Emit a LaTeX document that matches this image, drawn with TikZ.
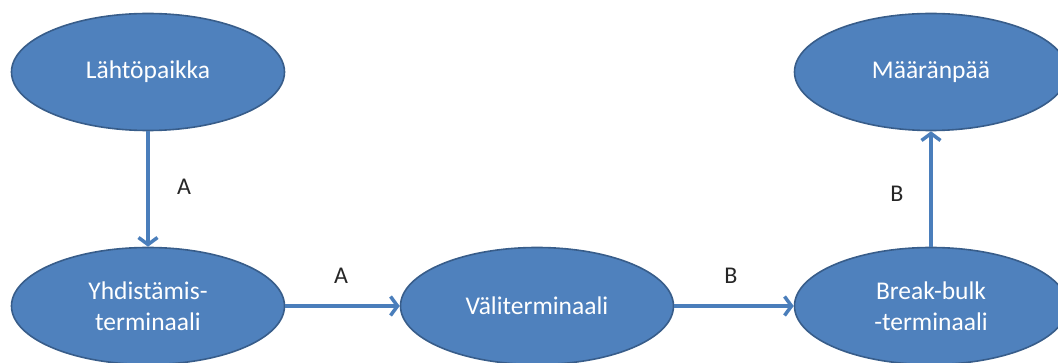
\documentclass[tikz,border=0pt]{standalone}
\usepackage{fontspec}
\setmainfont{Carlito}
\usetikzlibrary{shapes.geometric,arrows.meta}
\definecolor{nodefill}{HTML}{4F81BD}
\definecolor{nodeline}{HTML}{385D8A}
\definecolor{flow}{HTML}{4A7EBB}
\begin{document}
\begin{tikzpicture}[x=1pt,y=-1pt,
  place/.style={ellipse, draw=nodeline, fill=nodefill, line width=1.6pt,
    minimum width=273pt, minimum height=117pt, inner sep=0pt,
    text=white, align=center, font=\fontsize{25.5}{31}\selectfont},
  flowarrow/.style={draw=flow, line width=3.5pt,
    -{Straight Barb[length=7pt,width=19pt,line width=3.5pt]}},
  leg/.style={font=\fontsize{24}{28}\selectfont, text=black!85}]
  \useasboundingbox (0,0) rectangle (1058,363);
  \clip (0,0) rectangle (1058,363);
  \node[place] (start) at (148,72) {Lähtöpaikka};
  \node[place] (merge) at (148,306) {Yhdistämis-\\terminaali};
  \node[place] (mid) at (537,306) {Väliterminaali};
  \node[place] (brk) at (931,306) {Break-bulk\\-terminaali};
  \node[place] (dest) at (931,72) {Määränpää};
  \draw[flowarrow] (start.south) -- (merge.north);
  \draw[flowarrow] (merge.east) -- (mid.west);
  \draw[flowarrow] (mid.east) -- (brk.west);
  \draw[flowarrow] (brk.north) -- (dest.south);
  \node[leg] (la1) at (184,187) {A};
  \node[leg] (la2) at (341,276) {A};
  \node[leg] (lb1) at (731,276) {B};
  \node[leg] (lb2) at (897,194) {B};
\end{tikzpicture}
\end{document}
